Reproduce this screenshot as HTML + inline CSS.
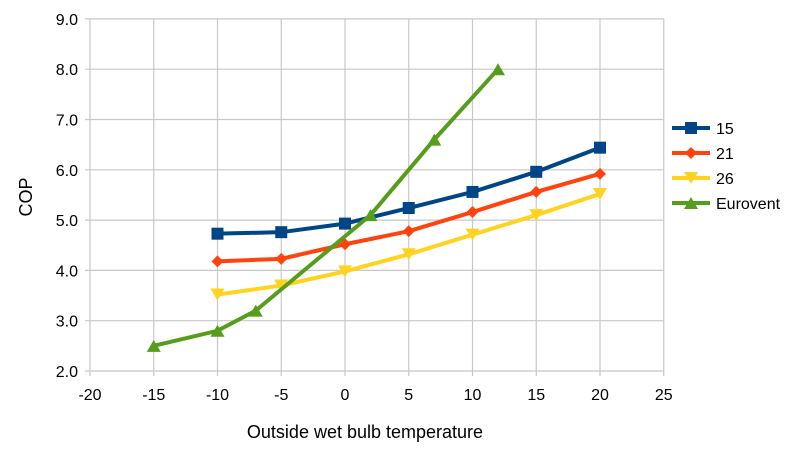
<!DOCTYPE html>
<html><head><meta charset="utf-8"><style>
body{margin:0;background:#fff;}
svg{display:block;font-family:"Liberation Sans",sans-serif;}
</style></head><body>
<svg id="s" width="800" height="450" xmlns="http://www.w3.org/2000/svg"></svg>
<script>
const s=document.getElementById('s');
const X=v=>345+v*12.75, Y=v=>371-(v-2)*50.3;
let h='';
for(let i=2;i<=9;i++){const y=Y(i);h+=`<line x1="85" x2="664" y1="${y}" y2="${y}" stroke="#c8c8c8" stroke-width="1.2"/>`;
h+=`<text x="78" y="${y+6}" font-size="16" text-anchor="end" fill="#000">${i.toFixed(1)}</text>`;}
for(let v=-20;v<=25;v+=5){const x=X(v);h+=`<line x1="${x}" x2="${x}" y1="19" y2="376" stroke="#c8c8c8" stroke-width="1.2"/>`;
h+=`<text x="${x}" y="400" font-size="16" text-anchor="middle" fill="#000">${v}</text>`;}
const xs=[-10,-5,0,5,10,15,20];
const ser=[
{c:'#004586',m:'sq',p:xs.map((x,i)=>[x,[4.73,4.76,4.93,5.24,5.56,5.96,6.44][i]])},
{c:'#ff420e',m:'di',p:xs.map((x,i)=>[x,[4.18,4.23,4.52,4.78,5.16,5.56,5.92][i]])},
{c:'#ffd320',m:'dn',p:xs.map((x,i)=>[x,[3.52,3.70,3.98,4.32,4.71,5.10,5.52][i]])},
{c:'#579d1c',m:'up',p:[[-15,2.5],[-10,2.8],[-7,3.2],[2,5.1],[7,6.6],[12,8.0]]}];
function mk(m,x,y,c){
 if(m=='sq')return `<rect x="${x-6}" y="${y-6}" width="12" height="12" fill="${c}"/>`;
 if(m=='di')return `<polygon points="${x},${y-6} ${x+6},${y} ${x},${y+6} ${x-6},${y}" fill="${c}"/>`;
 if(m=='dn')return `<polygon points="${x-7},${y-6} ${x+7},${y-6} ${x},${y+6}" fill="${c}"/>`;
 return `<polygon points="${x-7},${y+6} ${x+7},${y+6} ${x},${y-6}" fill="${c}"/>`;}
ser.forEach(o=>{h+=`<polyline fill="none" stroke="${o.c}" stroke-width="4" points="${o.p.map(q=>X(q[0])+','+Y(q[1])).join(' ')}"/>`;
o.p.forEach(q=>h+=mk(o.m,X(q[0]),Y(q[1]),o.c));});
const names=['15','21','26','Eurovent'];
ser.forEach((o,i)=>{const y=128+i*25;h+=`<line x1="672" x2="710" y1="${y}" y2="${y}" stroke="${o.c}" stroke-width="4"/>`+mk(o.m,691,y,o.c)+
`<text x="716" y="${y+6}" font-size="16" fill="#000">${names[i]}</text>`;});
h+=`<text x="365" y="438" font-size="18" text-anchor="middle">Outside wet bulb temperature</text>`;
h+=`<text transform="translate(32,197) rotate(-90)" font-size="18" text-anchor="middle">COP</text>`;
s.innerHTML=h;
</script>
</body></html>
